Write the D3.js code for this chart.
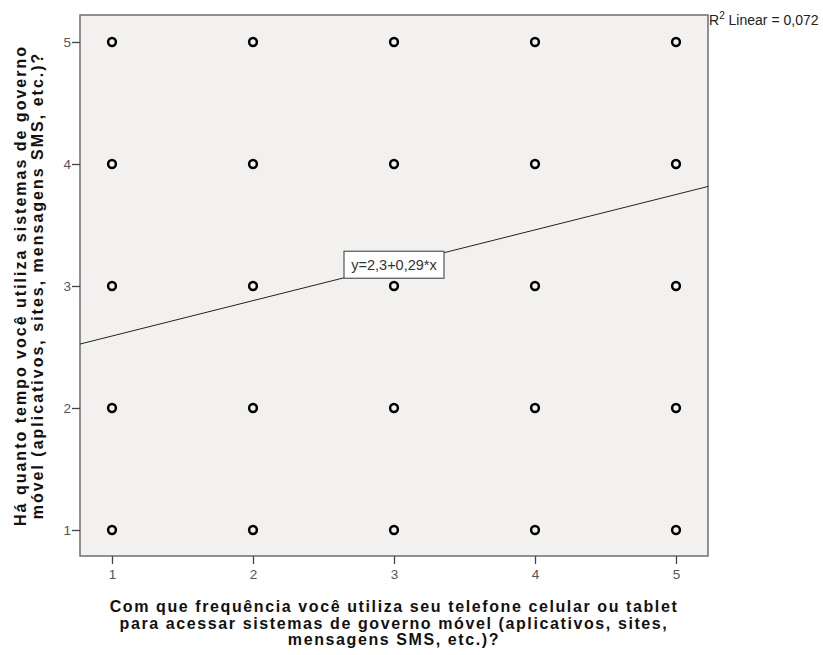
<!DOCTYPE html>
<html>
<head>
<meta charset="utf-8">
<script src="https://cdn.jsdelivr.net/npm/d3@7"></script>
<style>
  body { margin: 0; background: #fff; }
  svg { font-family: "Liberation Sans", Arial, sans-serif; }
</style>
</head>
<body>
<div id="chart"></div>
<script>
// data: every combination of the two 1-5 answers shows up
const xValues = [1, 2, 3, 4, 5];
const yValues = [1, 2, 3, 4, 5];
const xTicks = [1, 2, 3, 4, 5];
const yTicks = [1, 2, 3, 4, 5];
const fitIntercept = 2.3;
const fitSlope = 0.29;
const fitLabel = "y=2,3+0,29*x";
const r2Label = "0,072";
const xTitle = [
    "Com que frequência você utiliza seu telefone celular ou tablet",
    "para acessar sistemas de governo móvel (aplicativos, sites,",
    "mensagens SMS, etc.)?"
];
const yTitle = [
    "Há quanto tempo você utiliza sistemas de governo",
    "móvel (aplicativos, sites, mensagens SMS, etc.)?"
];

const width = 823;
const height = 655;
const plot = { left: 80, right: 708, top: 15, bottom: 556 };

const x = d3.scaleLinear().domain([1, 5]).range([112, 676]);
const y = d3.scaleLinear().domain([1, 5]).range([530, 42]);
const xMin = x.invert(plot.left), xMax = x.invert(plot.right);

const svg = d3.select("#chart").append("svg")
    .attr("width", width)
    .attr("height", height);

// plot background + frame
svg.append("rect")
    .attr("x", plot.left)
    .attr("y", plot.top)
    .attr("width", plot.right - plot.left)
    .attr("height", plot.bottom - plot.top)
    .attr("fill", "#f2f1f0")
    .attr("stroke", "#6e6e6e")
    .attr("stroke-width", 1.5);

// axes
const xAxis = svg.append("g")
    .attr("transform", `translate(0,${plot.bottom})`)
    .call(d3.axisBottom(x).tickValues(xTicks).tickSize(8).tickPadding(5).tickFormat(d3.format("d")));
const yAxis = svg.append("g")
    .attr("transform", `translate(${plot.left},0)`)
    .call(d3.axisLeft(y).tickValues(yTicks).tickSize(8).tickPadding(1).tickFormat(d3.format("d")));
[xAxis, yAxis].forEach(g => {
    g.select(".domain").remove();
    g.selectAll(".tick line").attr("stroke", "#444").attr("stroke-width", 1.3);
    g.selectAll(".tick text").attr("fill", "#555").style("font-size", "13.5px");
});

// fit line
svg.append("clipPath").attr("id", "plotclip")
    .append("rect")
    .attr("x", plot.left).attr("y", plot.top)
    .attr("width", plot.right - plot.left).attr("height", plot.bottom - plot.top);

svg.append("line")
    .attr("clip-path", "url(#plotclip)")
    .attr("x1", x(xMin))
    .attr("y1", y(fitIntercept + fitSlope * xMin))
    .attr("x2", x(xMax))
    .attr("y2", y(fitIntercept + fitSlope * xMax))
    .attr("stroke", "#222")
    .attr("stroke-width", 1);

// points
const points = d3.cross(xValues, yValues);
svg.append("g")
    .selectAll("circle")
    .data(points)
    .join("circle")
    .attr("cx", d => x(d[0]))
    .attr("cy", d => y(d[1]))
    .attr("r", 3.9)
    .attr("fill", "none")
    .attr("stroke", "#000")
    .attr("stroke-width", 2.5);

// fit label box
const labelX = 3;
const lx = x(labelX), ly = y(fitIntercept + fitSlope * labelX);
const lab = svg.append("g").attr("transform", `translate(${lx},${ly})`);
lab.append("rect")
    .attr("x", -50).attr("y", -14)
    .attr("width", 100).attr("height", 27)
    .attr("fill", "#fff")
    .attr("stroke", "#555")
    .attr("stroke-width", 1.2);
lab.append("text")
    .attr("text-anchor", "middle")
    .attr("y", 5)
    .attr("fill", "#333")
    .style("font-size", "14.5px")
    .text(fitLabel);

// R² label
const r2 = svg.append("text")
    .attr("x", plot.right + 1)
    .attr("y", 25)
    .attr("fill", "#222")
    .style("font-size", "14px");
r2.append("tspan").text("R");
r2.append("tspan").attr("dy", -6).style("font-size", "10px").text("2");
r2.append("tspan").attr("dy", 6).text(" Linear = " + r2Label);

// axis titles
svg.append("text")
    .attr("text-anchor", "middle")
    .style("font-size", "16px")
    .style("font-weight", "bold")
    .style("letter-spacing", "1.6px")
    .attr("fill", "#111")
    .selectAll("tspan")
    .data(xTitle)
    .join("tspan")
    .attr("x", 394)
    .attr("y", (d, i) => 612 + i * 16.5)
    .text(d => d);

svg.append("text")
    .attr("transform", `translate(0,${(plot.top + plot.bottom) / 2}) rotate(-90)`)
    .attr("text-anchor", "middle")
    .style("font-size", "16px")
    .style("font-weight", "bold")
    .style("letter-spacing", "2px")
    .attr("fill", "#111")
    .selectAll("tspan")
    .data(yTitle)
    .join("tspan")
    .attr("x", 0)
    .attr("y", (d, i) => 26 + i * 17)
    .text(d => d);
</script>
</body>
</html>
